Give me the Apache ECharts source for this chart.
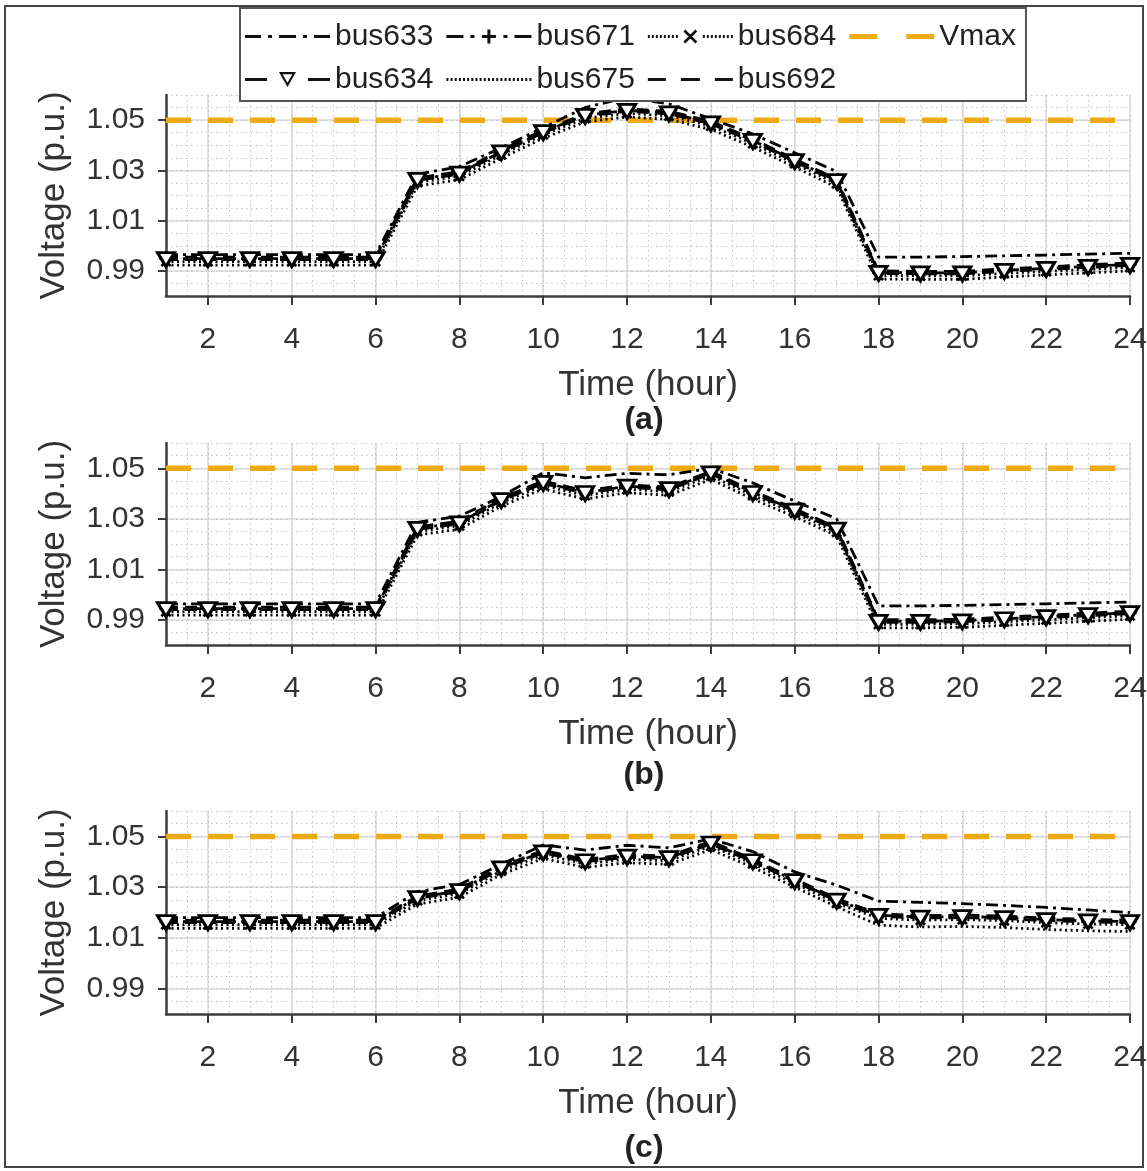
<!DOCTYPE html>
<html>
<head>
<meta charset="utf-8">
<title>Bus voltages</title>
<script src="https://cdn.jsdelivr.net/npm/echarts@6/dist/echarts.min.js"></script>
<style>
    html, body { margin: 0; padding: 0; background: #fff; }
    #chart { width: 1147px; height: 1171px; }
</style>
</head>
<body>
<div id="chart"></div>
<script>
var hours = [1, 2, 3, 4, 5, 6, 7, 8, 9, 10, 11, 12, 13, 14, 15, 16, 17, 18, 19, 20, 21, 22, 23, 24];
var xTicks = [2, 4, 6, 8, 10, 12, 14, 16, 18, 20, 22, 24];
var yTicks = [0.99, 1.01, 1.03, 1.05];
var vmax = 1.05;
var panelNames = ['(a)', '(b)', '(c)'];

// panel (a)
var bus633a = [0.9965, 0.9965, 0.9965, 0.9965, 0.9965, 0.9965, 1.0285, 1.0315, 1.0390, 1.0470, 1.0550, 1.0590, 1.0565, 1.0505, 1.0445, 1.0370, 1.0295, 0.9955, 0.9955, 0.9957, 0.9960, 0.9963, 0.9967, 0.9970];
var bus634a = [0.9945, 0.9945, 0.9945, 0.9945, 0.9945, 0.9945, 1.0260, 1.0285, 1.0370, 1.0450, 1.0515, 1.0535, 1.0525, 1.0485, 1.0415, 1.0335, 1.0255, 0.9890, 0.9888, 0.9888, 0.9898, 0.9906, 0.9914, 0.9922];
var bus671a = [0.9949, 0.9949, 0.9949, 0.9949, 0.9949, 0.9949, 1.0264, 1.0289, 1.0374, 1.0454, 1.0519, 1.0539, 1.0529, 1.0489, 1.0419, 1.0339, 1.0259, 0.9894, 0.9892, 0.9892, 0.9902, 0.9910, 0.9918, 0.9926];
var bus692a = [0.9955, 0.9955, 0.9955, 0.9955, 0.9955, 0.9955, 1.0270, 1.0295, 1.0380, 1.0460, 1.0525, 1.0545, 1.0535, 1.0495, 1.0425, 1.0345, 1.0265, 0.9900, 0.9898, 0.9898, 0.9908, 0.9916, 0.9924, 0.9932];
var bus684a = [0.9937, 0.9937, 0.9937, 0.9937, 0.9937, 0.9937, 1.0252, 1.0277, 1.0362, 1.0442, 1.0507, 1.0527, 1.0517, 1.0477, 1.0407, 1.0327, 1.0247, 0.9882, 0.9880, 0.9880, 0.9890, 0.9898, 0.9906, 0.9914];
var bus675a = [0.9923, 0.9923, 0.9923, 0.9923, 0.9923, 0.9923, 1.0238, 1.0263, 1.0348, 1.0428, 1.0493, 1.0513, 1.0503, 1.0463, 1.0393, 1.0313, 1.0233, 0.9868, 0.9866, 0.9866, 0.9876, 0.9884, 0.9892, 0.9900];

// panel (b)
var bus633b = [0.9963, 0.9963, 0.9963, 0.9963, 0.9963, 0.9963, 1.0286, 1.0310, 1.0388, 1.0482, 1.0462, 1.0480, 1.0474, 1.0500, 1.0442, 1.0370, 1.0300, 0.9955, 0.9955, 0.9957, 0.9960, 0.9963, 0.9967, 0.9970];
var bus634b = [0.9940, 0.9940, 0.9940, 0.9940, 0.9940, 0.9940, 1.0258, 1.0280, 1.0372, 1.0440, 1.0400, 1.0425, 1.0415, 1.0478, 1.0400, 1.0330, 1.0255, 0.9890, 0.9890, 0.9892, 0.9900, 0.9908, 0.9916, 0.9924];
var bus671b = [0.9944, 0.9944, 0.9944, 0.9944, 0.9944, 0.9944, 1.0262, 1.0284, 1.0376, 1.0444, 1.0404, 1.0429, 1.0419, 1.0482, 1.0404, 1.0334, 1.0259, 0.9894, 0.9894, 0.9896, 0.9904, 0.9912, 0.9920, 0.9928];
var bus692b = [0.9950, 0.9950, 0.9950, 0.9950, 0.9950, 0.9950, 1.0268, 1.0290, 1.0382, 1.0450, 1.0410, 1.0435, 1.0425, 1.0488, 1.0410, 1.0340, 1.0265, 0.9900, 0.9900, 0.9902, 0.9910, 0.9918, 0.9926, 0.9934];
var bus684b = [0.9932, 0.9932, 0.9932, 0.9932, 0.9932, 0.9932, 1.0250, 1.0272, 1.0364, 1.0432, 1.0392, 1.0417, 1.0407, 1.0470, 1.0392, 1.0322, 1.0247, 0.9882, 0.9882, 0.9884, 0.9892, 0.9900, 0.9908, 0.9916];
var bus675b = [0.9918, 0.9918, 0.9918, 0.9918, 0.9918, 0.9918, 1.0236, 1.0258, 1.0350, 1.0418, 1.0378, 1.0403, 1.0393, 1.0456, 1.0378, 1.0308, 1.0233, 0.9868, 0.9868, 0.9870, 0.9878, 0.9886, 0.9894, 0.9902];

// panel (c)
var bus633c = [1.0180, 1.0180, 1.0180, 1.0180, 1.0180, 1.0180, 1.0282, 1.0310, 1.0390, 1.0466, 1.0446, 1.0465, 1.0455, 1.0490, 1.0440, 1.0360, 1.0308, 1.0245, 1.0240, 1.0235, 1.0228, 1.0220, 1.0210, 1.0200];
var bus634c = [1.0160, 1.0160, 1.0160, 1.0160, 1.0160, 1.0160, 1.0255, 1.0282, 1.0372, 1.0435, 1.0400, 1.0418, 1.0412, 1.0470, 1.0400, 1.0322, 1.0245, 1.0185, 1.0178, 1.0180, 1.0176, 1.0168, 1.0163, 1.0160];
var bus671c = [1.0164, 1.0164, 1.0164, 1.0164, 1.0164, 1.0164, 1.0259, 1.0286, 1.0376, 1.0439, 1.0404, 1.0422, 1.0416, 1.0474, 1.0404, 1.0326, 1.0249, 1.0189, 1.0182, 1.0184, 1.0180, 1.0172, 1.0167, 1.0164];
var bus692c = [1.0170, 1.0170, 1.0170, 1.0170, 1.0170, 1.0170, 1.0265, 1.0292, 1.0382, 1.0445, 1.0410, 1.0428, 1.0422, 1.0480, 1.0410, 1.0332, 1.0255, 1.0195, 1.0188, 1.0190, 1.0186, 1.0178, 1.0173, 1.0170];
var bus684c = [1.0152, 1.0152, 1.0152, 1.0152, 1.0152, 1.0152, 1.0247, 1.0274, 1.0364, 1.0427, 1.0392, 1.0410, 1.0404, 1.0462, 1.0392, 1.0314, 1.0237, 1.0177, 1.0170, 1.0172, 1.0168, 1.0160, 1.0155, 1.0152];
var bus675c = [1.0138, 1.0138, 1.0138, 1.0138, 1.0138, 1.0138, 1.0233, 1.0260, 1.0350, 1.0413, 1.0378, 1.0396, 1.0390, 1.0448, 1.0378, 1.0300, 1.0223, 1.0150, 1.0143, 1.0145, 1.0141, 1.0133, 1.0128, 1.0125];

var panels = [
    { bus633: bus633a, bus634: bus634a, bus671: bus671a, bus675: bus675a, bus684: bus684a, bus692: bus692a },
    { bus633: bus633b, bus634: bus634b, bus671: bus671b, bus675: bus675b, bus684: bus684b, bus692: bus692b },
    { bus633: bus633c, bus634: bus634c, bus671: bus671c, bus675: bus675c, bus684: bus684c, bus692: bus692c }
];

var FONT = "'Liberation Sans', Arial, sans-serif";
var ORANGE = '#EDAA14';
var AXIS = '#3c3c3c';
var gridPos = [
    { top: 95, height: 201, label: 420 },
    { top: 443, height: 202, label: 775 },
    { top: 811, height: 203, label: 1148 }
];

var plusPath = 'path://M4,0h2v4h4v2h-4v4h-2v-4h-4v-2h4z';

// line / marker look of each bus
var looks = {
    bus675: { dash: [2, 3.5], symbol: 'none' },
    bus684: { dash: [2, 3.5], symbol: plusPath, size: 13, rotate: 45 },
    bus692: { dash: [12, 7], symbol: 'none' },
    bus671: { dash: [12, 5, 3, 5], symbol: plusPath, size: 13, rotate: 0 },
    bus633: { dash: [12, 5, 3, 5], symbol: 'none' },
    bus634: { dash: [12, 7], symbol: 'triangle', size: [17, 14], rotate: 180 }
};
var drawOrder = ['bus675', 'bus684', 'bus692', 'bus671', 'bus633', 'bus634'];

// legend icons (85 x 20 box)
function rects(list, y, h) {
    return list.map(function (r) {
        return 'M' + r[0] + ',' + y + 'h' + (r[1] - r[0]) + 'v' + h + 'h' + (r[0] - r[1]) + 'z';
    }).join(' ');
}
function dots(x0, x1, n) {
    var out = [];
    var step = (x1 - x0) / (n - 1);
    for (var i = 0; i < n; i++) {
        var x = +(x0 + i * step).toFixed(2);
        out.push([x, x + 2]);
    }
    return rects(out, 8.5, 3);
}
var triIcon = 'M34,2.5L51,2.5L42.5,17.5z M37.6,4.7L42.5,13.2L47.4,4.7z';
var plusIcon = 'M41,3h3v5.5h5.5v3h-5.5v5.5h-3v-5.5h-5.5v-3h5.5z';
var xIcon = 'M37.42,3.08L49.42,15.08L47.58,16.92L35.58,4.92z M35.58,15.08L47.58,3.08L49.42,4.92L37.42,16.92z';
var icons = {
    bus633: 'path://' + rects([[0, 16], [23, 27], [34, 51], [58, 62], [69, 85]], 8.5, 3),
    bus671: 'path://' + rects([[0, 17], [24, 28], [57, 61], [68, 85]], 8.5, 3) + ' ' + plusIcon,
    bus684: 'path://' + dots(0, 28, 8) + ' ' + dots(55, 83, 8) + ' ' + xIcon,
    Vmax: 'path://' + rects([[0, 28], [57, 85]], 7.5, 5),
    bus634: 'path://' + rects([[0, 22], [63, 85]], 8.5, 3) + ' ' + triIcon,
    bus675: 'path://' + dots(0, 83, 21),
    bus692: 'path://' + rects([[0, 18], [33, 52], [67, 85]], 8.5, 3)
};
var legendOrder = ['bus633', 'bus671', 'bus684', 'Vmax', 'bus634', 'bus675', 'bus692'];

var grids = [], xAxes = [], yAxes = [], series = [], graphics = [];

gridPos.forEach(function (g, i) {
    grids.push({ left: 166, width: 964, top: g.top, height: g.height, outerBoundsMode: 'none' });

    // main axes
    xAxes.push({
        type: 'value', gridIndex: i, min: 1, max: 24,
        name: 'Time (hour)', nameLocation: 'middle', nameGap: 72,
        nameTextStyle: { fontSize: 35, color: '#333', fontFamily: FONT },
        axisLine: { onZero: false, lineStyle: { color: AXIS, width: 2.5 } },
        axisTick: { customValues: xTicks, length: 9, lineStyle: { color: AXIS, width: 2 } },
        axisLabel: { customValues: xTicks, margin: 29, fontSize: 30, color: '#333', fontFamily: FONT },
        splitLine: { show: true, lineStyle: { color: '#dadada', width: 1.5 } }
    });
    yAxes.push({
        type: 'value', gridIndex: i, min: 0.98, max: 1.06,
        name: 'Voltage (p.u.)', nameLocation: 'middle', nameGap: 94,
        nameTextStyle: { fontSize: 35, color: '#333', fontFamily: FONT },
        axisLine: { show: true, onZero: false, lineStyle: { color: AXIS, width: 2.5 } },
        axisTick: { show: true, customValues: yTicks, length: 8, lineStyle: { color: AXIS, width: 2 } },
        axisLabel: {
            customValues: yTicks, margin: 21, fontSize: 30, color: '#333', fontFamily: FONT,
            formatter: function (v) { return v.toFixed(2); }
        },
        splitLine: { show: true, lineStyle: { color: '#dadada', width: 1.5 } }
    });
    graphics.push({
        type: 'text', x: 644, y: g.label, silent: true,
        style: { text: panelNames[i], fontSize: 32, fontWeight: 'bold', fontFamily: FONT, fill: '#222', align: 'center', verticalAlign: 'middle' }
    });
});

// dotted minor grid axes
gridPos.forEach(function (g, i) {
    xAxes.push({
        type: 'value', gridIndex: i, min: 1, max: 24, interval: 0.5,
        axisLine: { show: false }, axisTick: { show: false }, axisLabel: { show: false },
        splitLine: { show: true, lineStyle: { color: '#c2c2c2', type: [1.5, 3.5], width: 1 } }
    });
    yAxes.push({
        type: 'value', gridIndex: i, min: 0.98, max: 1.06, interval: 0.005,
        axisLine: { show: false }, axisTick: { show: false }, axisLabel: { show: false },
        splitLine: { show: true, lineStyle: { color: '#c2c2c2', type: [1.5, 3.5], width: 1 } }
    });
});

function pairs(values) {
    return hours.map(function (h, k) { return [h, values[k]]; });
}

panels.forEach(function (p, i) {
    series.push({
        name: 'Vmax', type: 'line', xAxisIndex: i, yAxisIndex: i,
        data: [[hours[0], vmax], [hours[hours.length - 1], vmax]],
        symbol: 'none', silent: true, animation: false,
        lineStyle: { color: ORANGE, width: 5.5, type: [25, 17] },
        itemStyle: { color: ORANGE }
    });
    drawOrder.forEach(function (name) {
        var lk = looks[name];
        var s = {
            name: name, type: 'line', xAxisIndex: i, yAxisIndex: i,
            data: pairs(p[name]), clip: false, silent: true, animation: false,
            symbol: lk.symbol, showSymbol: lk.symbol !== 'none',
            lineStyle: { color: '#000', width: 2.8, type: lk.dash },
            emphasis: { disabled: true }
        };
        if (lk.symbol !== 'none') {
            s.symbolSize = lk.size;
            s.symbolRotate = lk.rotate;
        }
        if (name === 'bus634') {
            s.itemStyle = { color: '#fff', borderColor: '#000', borderWidth: 3 };
        } else {
            s.itemStyle = { color: '#000' };
        }
        series.push(s);
    });
});

graphics.push({
    type: 'rect', silent: true, z: -10,
    shape: { x: 5, y: 6, width: 1138, height: 1161 },
    style: { fill: 'none', stroke: '#444', lineWidth: 2 }
});

var chart = echarts.init(document.getElementById('chart'));
chart.setOption({
    backgroundColor: '#fff',
    animation: false,
    legend: {
        left: 240, top: 8, width: 780, orient: 'horizontal',
        padding: [13.5, 10, 6.5, 5], itemWidth: 85, itemHeight: 20, itemGap: 13,
        backgroundColor: '#fff', borderColor: '#555', borderWidth: 2,
        selectedMode: false,
        textStyle: { fontSize: 30, color: '#222', fontFamily: FONT, lineHeight: 27 },
        data: legendOrder.map(function (n) {
            return {
                name: n, icon: icons[n],
                itemStyle: { color: n === 'Vmax' ? ORANGE : '#111', borderWidth: 0 }
            };
        })
    },
    grid: grids,
    xAxis: xAxes,
    yAxis: yAxes,
    series: series,
    graphic: graphics
});
</script>
</body>
</html>
